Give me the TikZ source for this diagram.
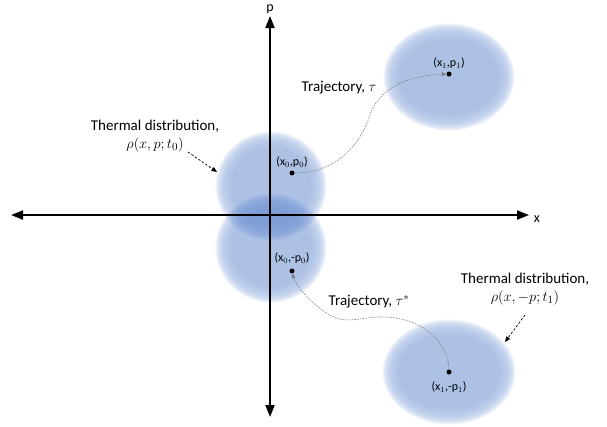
\documentclass[tikz,border=0pt]{standalone}
\usepackage{fontspec}
\setmainfont{Carlito}
\usetikzlibrary{arrows.meta}
\definecolor{blobblue}{RGB}{68,114,196}
\tikzset{
  axis/.style={line width=1.8pt, -{Triangle[length=12pt,width=9pt]}},
  traj/.style={gray, line width=0.6pt, dash pattern=on 1.6pt off 1.2pt, -{Triangle[length=4.5pt,width=4pt]}},
  pointer/.style={black, line width=0.7pt, dash pattern=on 2.4pt off 1.8pt, -{Triangle[length=5.5pt,width=4.5pt]}},
  ptlabel/.style={font=\fontsize{12}{14}\selectfont, inner sep=0pt},
  txt/.style={font=\fontsize{15}{18}\selectfont, inner sep=1pt, align=center},
  axlab/.style={font=\fontsize{14}{16}\selectfont, inner sep=0pt},
  dot/.style={circle, fill=black, inner sep=0pt, minimum size=5pt},
}
\newcommand{\blob}[4]{%
  \begin{scope}[transparency group, opacity=0.44]
    \foreach \k in {0,...,9}{
      \fill[blobblue, fill opacity=0.18] (#1,#2) ellipse ({#3+4.5-1.1*\k} and {#4+4.5-1.1*\k});
    }
    \fill[blobblue, fill opacity=0.4] (#1,#2) ellipse ({#3-7} and {#4-7});
    \fill[blobblue] (#1,#2) ellipse ({#3-10} and {#4-10});
  \end{scope}}
\begin{document}
\begin{tikzpicture}[x=1pt, y=-1pt]
\useasboundingbox (0,0) rectangle (607,426);
% distributions
\blob{271}{186}{51}{50}
\blob{271}{248}{51}{50}
\blob{449}{77}{61}{49}
\blob{449}{372}{62}{48}
% axes
\coordinate (xl) at (11,215);
\coordinate (xr) at (529,215);
\coordinate (pt) at (270,16);
\coordinate (pb) at (270,417);
\draw[axis] (270,215) -- (xr);
\draw[axis] (270,215) -- (xl);
\draw[axis] (270,215) -- (pt);
\draw[axis] (270,215) -- (pb);
\node[axlab] (xlab) at (537,219) {x};
\node[axlab, anchor=base] (plab) at (270,11.5) {p};
% points
\node[dot] (d0) at (292,173) {};
\node[dot] (d1) at (449,74) {};
\node[dot] (d2) at (292,271) {};
\node[dot] (d3) at (449,372) {};
\node[ptlabel] (l0) at (292,162) {(x$_0$,p$_0$)};
\node[ptlabel] (l1) at (449,63) {(x$_1$,p$_1$)};
\node[ptlabel] (l2) at (292,258) {(x$_0$,-p$_0$)};
\node[ptlabel] (l3) at (449,387) {(x$_1$,-p$_1$)};
% trajectories
\draw[traj] (d0.east) .. controls (340,173) and (362,140) .. (370,115)
  .. controls (378,90) and (405,76) .. (d1.west);
\node[txt] (tlab) at (339,88) {Trajectory, $\tau$};
\draw[traj] (d3.north) .. controls (448,340) and (420,318) .. (385,317)
  .. controls (360,316) and (345,327) .. (325,312)
  .. controls (308,300) and (298,288) .. (d2.south);
\node[txt] (tslab) at (369,302) {Trajectory, $\tau^{*}$};
% thermal distribution labels
\node[txt] (th0) at (155,136) {Thermal distribution,\\ $\rho(x,p;t_0)$};
\coordinate (a0) at (217,172);
\draw[pointer] (188,152) -- (a0);
\node[txt] (th1) at (525,289) {Thermal distribution,\\ $\rho(x,-p;t_1)$};
\coordinate (a1) at (505,342);
\draw[pointer] (525,315) -- (a1);
\end{tikzpicture}
\end{document}
